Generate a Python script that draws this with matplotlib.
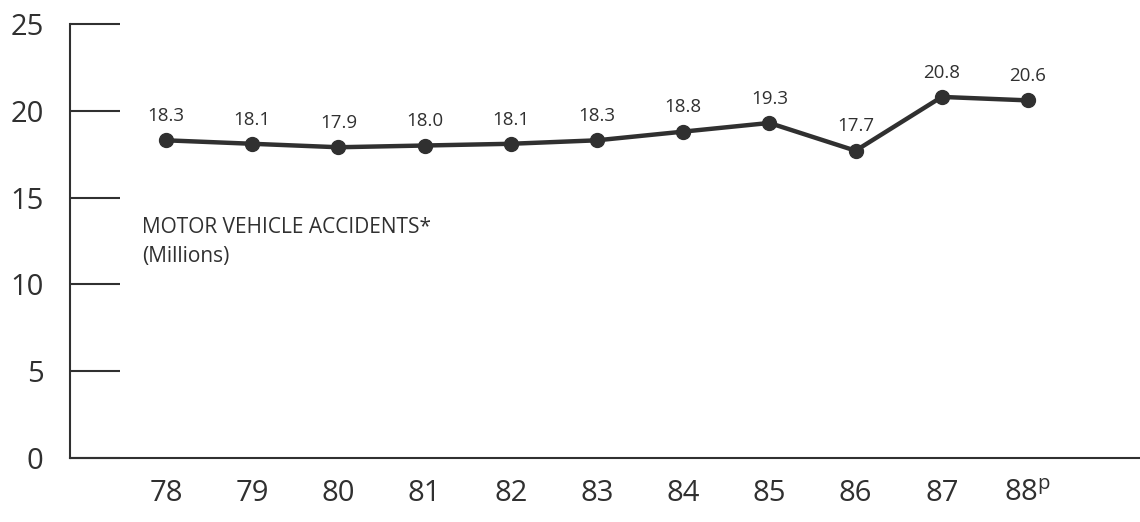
import matplotlib
matplotlib.use("Agg")
import matplotlib.pyplot as plt

years = [78, 79, 80, 81, 82, 83, 84, 85, 86, 87, 88]
year_labels = ["78", "79", "80", "81", "82", "83", "84", "85", "86", "87", "88$^\\mathregular{p}$"]
accidents = [18.3, 18.1, 17.9, 18.0, 18.1, 18.3, 18.8, 19.3, 17.7, 20.8, 20.6]
y_ticks = [0, 5, 10, 15, 20, 25]

INK = "#303030"
plt.rcParams["font.family"] = ["Open Sans", "DejaVu Sans"]

fig = plt.figure(figsize=(11.4, 5.22), dpi=100)
ax = fig.add_axes([70 / 1140, 1 - 458 / 522, 1 - 70 / 1140, (458 - 24) / 522])

ax.plot(years, accidents, "-o", color=INK, lw=3.2, ms=10, clip_on=False, zorder=3)
for x, v in zip(years, accidents):
    ax.annotate(f"{v:.1f}", (x, v), xytext=(0, 11), textcoords="offset points",
                ha="center", va="bottom", fontsize=13.5, color=INK)

# series label sits inside the plot, left side
ax.text(72 / 1070, 0.556, "MOTOR VEHICLE ACCIDENTS*\n(Millions)",
        transform=ax.transAxes, fontsize=15, color=INK, va="top", ha="left",
        linespacing=1.5)

ax.set_xlim(76.886, 89.3)
ax.set_ylim(0, 25)
ax.set_xticks(years)
ax.set_xticklabels(year_labels)
ax.set_yticks(y_ticks)
ax.tick_params(axis="y", direction="in", length=36, width=1.5, color=INK,
               pad=19, labelsize=21, labelcolor=INK)
ax.tick_params(axis="x", length=0, pad=15, labelsize=21, labelcolor=INK)
for s in ("top", "right"):
    ax.spines[s].set_visible(False)
for s in ("left", "bottom"):
    ax.spines[s].set_color(INK)
    ax.spines[s].set_linewidth(1.5)

fig.savefig("out.png", dpi=100)
